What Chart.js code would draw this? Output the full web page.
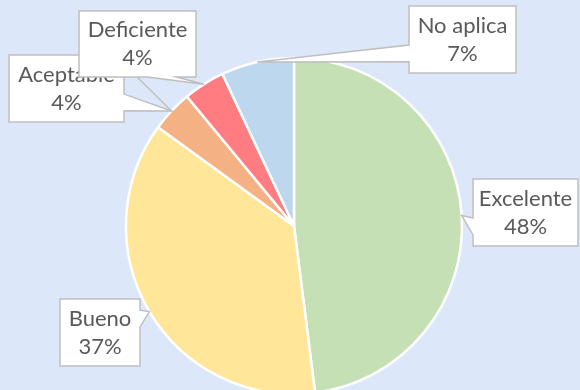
<!DOCTYPE html>
<html>
<head>
<meta charset="utf-8">
<script src="https://cdn.jsdelivr.net/npm/chart.js@4"></script>
<style>
  html, body { margin: 0; padding: 0; background: #dce8f9; overflow: hidden; }
  #wrap { width: 580px; height: 390px; overflow: hidden; }
</style>
</head>
<body>
<div id="wrap"><canvas id="myChart" width="580" height="452"></canvas></div>
<script>
var categories = ['Excelente', 'Bueno', 'Aceptable', 'Deficiente', 'No aplica'];
var percents = [48, 37, 4, 4, 7];
var sliceColors = ['#c5e0b4', '#ffe699', '#f4b183', '#ff7c80', '#bdd7ee'];

// callout boxes, drawn in this order (later ones sit on top)
var callouts = [
  {i: 0, x: 473, y: 179, w: 105, h: 67},
  {i: 1, x: 60, y: 299, w: 80, h: 67},
  {i: 2, x: 9, y: 55, w: 115, h: 67, leaderFrom: [131, 71]},
  {i: 3, x: 79, y: 11, w: 117, h: 66},
  {i: 4, x: 409, y: 6, w: 107, h: 67}
];

function calloutPath(ctx, b, tx, ty) {
  var l = b.x, t = b.y, r = b.x + b.w, bt = b.y + b.h;
  var cx = l + b.w / 2, cy = t + b.h / 2;
  var dx = tx - cx, dy = ty - cy;
  var dq = dx * b.h / b.w;
  var vert = Math.abs(dy) > Math.abs(dq);
  var x1 = l + b.w * (dx > 0 ? 7 : 2) / 12, x2 = l + b.w * (dx > 0 ? 10 : 5) / 12;
  var y1 = t + b.h * (dy > 0 ? 7 : 2) / 12, y2 = t + b.h * (dy > 0 ? 10 : 5) / 12;
  ctx.beginPath();
  ctx.moveTo(l, t);
  if (vert && dy < 0) { ctx.lineTo(x1, t); ctx.lineTo(tx, ty); ctx.lineTo(x2, t); }
  ctx.lineTo(r, t);
  if (!vert && dx > 0) { ctx.lineTo(r, y1); ctx.lineTo(tx, ty); ctx.lineTo(r, y2); }
  ctx.lineTo(r, bt);
  if (vert && dy > 0) { ctx.lineTo(x2, bt); ctx.lineTo(tx, ty); ctx.lineTo(x1, bt); }
  ctx.lineTo(l, bt);
  if (!vert && dx < 0) { ctx.lineTo(l, y2); ctx.lineTo(tx, ty); ctx.lineTo(l, y1); }
  ctx.closePath();
}

var calloutLabels = {
  id: 'calloutLabels',
  afterDraw: function(chart) {
    var ctx = chart.ctx;
    var meta = chart.getDatasetMeta(0);
    ctx.save();
    callouts.forEach(function(c) {
      var arc = meta.data[c.i];
      var mid = (arc.startAngle + arc.endAngle) / 2;
      var tx = arc.x + Math.cos(mid) * arc.outerRadius;
      var ty = arc.y + Math.sin(mid) * arc.outerRadius;
      ctx.lineWidth = 1.5;
      ctx.strokeStyle = '#bfbfbf';
      if (c.leaderFrom) {
        ctx.beginPath();
        ctx.moveTo(c.leaderFrom[0], c.leaderFrom[1]);
        ctx.lineTo(tx, ty);
        ctx.stroke();
      }
      calloutPath(ctx, c, tx, ty);
      ctx.fillStyle = '#ffffff';
      ctx.fill();
      ctx.stroke();
      ctx.fillStyle = '#595959';
      ctx.font = '22px Lato';
      ctx.textAlign = 'center';
      ctx.textBaseline = 'middle';
      var cx = c.x + c.w / 2, cy = c.y + c.h / 2;
      ctx.fillText(categories[c.i], cx, cy - 14);
      ctx.fillText(percents[c.i] + '%', cx, cy + 14);
    });
    ctx.restore();
  }
};

var ctx = document.getElementById('myChart').getContext('2d');
var myChart = new Chart(ctx, {
  type: 'pie',
  data: {
    labels: categories,
    datasets: [{
      data: percents,
      backgroundColor: sliceColors,
      borderColor: '#ffffff',
      borderWidth: 2.5,
      radius: 168
    }]
  },
  options: {
    responsive: false,
    animation: false,
    layout: { padding: { left: 8 } },
    plugins: {
      legend: { display: false },
      tooltip: { enabled: false }
    }
  },
  plugins: [calloutLabels]
});
</script>
</body>
</html>
